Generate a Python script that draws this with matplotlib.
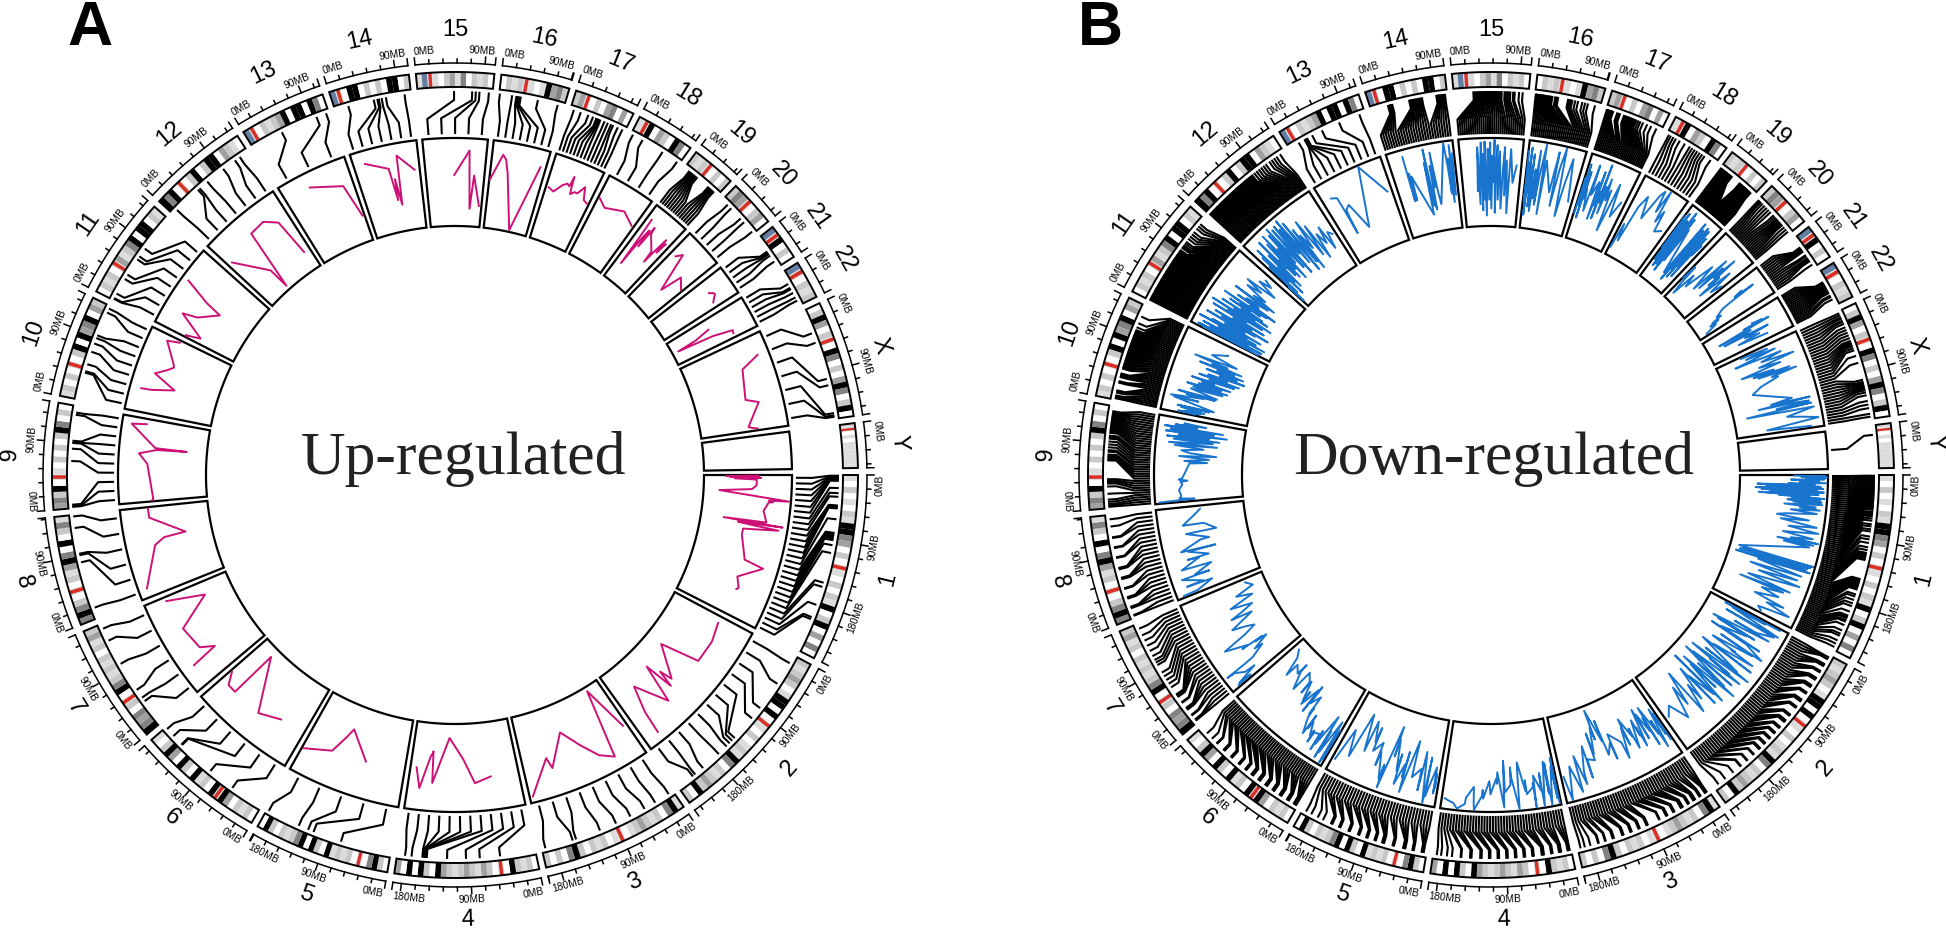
import numpy as np
import matplotlib
matplotlib.use("Agg")
import matplotlib.pyplot as plt

plt.rcParams["font.family"] = ["Liberation Sans", "DejaVu Sans"]

CHROMS = ["1", "2", "3", "4", "5", "6", "7", "8", "9", "10", "11", "12", "13",
          "14", "15", "16", "17", "18", "19", "20", "21", "22", "X", "Y"]
CHROM_MB = [249, 243, 198, 191, 181, 171, 159, 146, 141, 136, 135, 134, 115,
            107, 103, 91, 81, 78, 59, 63, 48, 51, 155, 59]

# one letter per equal slice of the chromosome
BANDS = ["awlwawlakkdmwlwrawlwlakwlkwmwdw", "lalmlwakkwkwrawlwalakdwlalmlkwl",
         "akdwlalmlawrawlalwlkdwlwl", "wlalkwrwlmalmlalmkwlkwkwm",
         "wlkdwrwlalakwlkwkdlalwlkw", "wlalwmkrkwlakwlkwmklwa",
         "kdmdwlrwkdlalalwlaml", "dkdlwrwlamkdwkwlda", "mdlkwrawlwlwlkdwlw",
         "alwlwrwlkwkmdkwml", "wlalwrmaldkwkkwla", "kdkwrwlkwlkkwmlaw",
         "srwlalmkwkkwkdw", "srwkkwlwlwkkwl", "asrawlmadwlalw", "wlalrawakmdl",
         "lmrwlwmdwmw", "arkwmlwkdw", "lalrwlwl", "ldmrwlmw", "srkwlw", "srwlal",
         "wlkmwlrwkdwlwmkdwlkw", "arwawaaaaaaa"]
BAND_COLORS = {"w": "#ffffff", "a": "#dcdcdc", "l": "#c8c8c8", "m": "#a0a0a0",
               "d": "#828282", "k": "#000000", "r": "#d92f27", "s": "#647fa4"}

UP_POS = [
    [1, 2, 3, 4, 5, 6, 8, 18, 25, 30, 42, 43, 44, 45, 46, 61, 80, 82, 84, 86, 88, 90, 97, 108, 150, 156, 182, 200, 203],
    [12, 45, 86, 104, 140, 145, 150, 156, 171, 200, 214, 218],
    [7, 29, 46, 68, 90, 114, 149, 154, 193],
    [49, 77, 96, 122, 150, 151, 152, 153, 154, 156, 171, 180],
    [70, 110, 118, 132, 178],
    [47, 85, 138, 139, 155, 168],
    [37, 43, 56, 98, 134, 152],
    [15, 80, 90, 92, 128, 144],
    [2, 3, 5, 65, 82, 90, 91, 93, 129, 132],
    [38, 40, 50, 68, 80, 88, 92, 126, 132],
    [2, 3, 10, 33, 40, 65, 70, 83],
    [8, 48, 51, 65, 93, 113, 121],
    [45, 97, 111],
    [19, 55, 60, 62, 66, 72, 98],
    [50, 75, 80, 85, 98],
    [1, 18, 24, 26, 28, 30, 54, 82],
    [5, 15, 26, 33, 38, 40, 42, 44, 50, 55, 60, 63, 70, 77],
    [3, 18, 50, 74],
    [8, 10, 12, 14, 16, 18, 20, 22, 42, 44, 46, 48, 50, 52],
    [10, 17, 36, 43, 60],
    [22, 24, 26, 29, 39],
    [18, 24, 26, 32, 39, 44],
    [33, 47, 99, 108, 147, 150, 152],
    [],
]
UP_VAL = [
    [62, 25, 62, 30, 65, 35, 60, 60, 55, 18, 98, 75, 78, 80, 75, 70, 75, 26, 94, 43, 60, 90, 50, 50, 60, 83, 58, 64, 62],
    [60, 65, 65, 20, 55, 40, 60, 25, 70, 32, 62, 89],
    [60, 5, 85, 75, 55, 33, 68, 55, 93],
    [62, 68, 40, 16, 68, 50, 32, 34, 36, 37, 75, 52],
    [58, 28, 40, 60, 72],
    [58, 68, 11, 68, 68, 55],
    [84, 52, 67, 72, 32, 75],
    [90, 67, 55, 30, 68, 68],
    [61, 62, 61, 67, 77, 57, 23, 59, 89, 72],
    [87, 75, 50, 77, 65, 59, 60, 78, 64],
    [60, 62, 45, 77, 60, 40, 60, 92],
    [67, 30, 5, 76, 78, 67, 23],
    [83, 69, 30],
    [85, 73, 36, 60, 30, 86, 67],
    [58, 86, 20, 58, 24],
    [55, 85, 80, 75, 70, 66, 2, 80],
    [61, 58, 68, 72, 70, 82, 70, 62, 66, 66, 72, 76, 62, 60],
    [72, 65, 73, 64],
    [83, 55, 23, 60, 72, 50, 78, 70, 55, 41, 60, 76, 58, 72],
    [70, 77, 32, 58, 49],
    [72, 74, 76, 77, 70],
    [49, 30, 7, 50, 73, 72],
    [87, 65, 58, 72, 55, 60, 65],
    [],
]

DOWN_POS = [
    [1, 2, 3, 4, 6, 7, 8, 10, 11, 13, 15, 16, 17, 19, 20, 22, 24, 25, 27, 28, 30, 32, 33, 35, 36, 38, 40, 41, 43, 44, 46, 48, 51, 53, 55, 57, 60, 63, 68, 71, 75, 78, 85, 89, 94, 100, 104, 108, 110, 112, 114, 116, 118, 145, 147, 149, 150, 151, 153, 154, 155, 156, 158, 160, 167, 170, 175, 180, 184, 192, 198, 200, 202, 205, 207, 212, 220, 225, 228, 235, 240, 245],
    [3, 4, 5, 6, 14, 15, 16, 17, 25, 26, 27, 36, 37, 38, 39, 48, 49, 50, 51, 60, 61, 62, 72, 73, 74, 75, 84, 85, 86, 98, 99, 100, 108, 109, 110, 111, 120, 121, 122, 130, 131, 132, 140, 141, 142, 150, 151, 152, 160, 161, 162, 172, 173, 184, 185, 196, 197, 210, 224, 236],
    [3, 4, 5, 6, 13, 14, 15, 22, 23, 24, 25, 32, 33, 34, 42, 43, 44, 45, 55, 56, 57, 66, 67, 68, 78, 79, 96, 97, 98, 108, 109, 110, 120, 121, 122, 132, 133, 134, 146, 147, 148, 158, 159, 168, 169, 180, 188, 194],
    [2, 3, 4, 5, 14, 15, 16, 17, 26, 27, 28, 38, 39, 40, 41, 52, 53, 54, 64, 65, 66, 76, 77, 78, 88, 89, 90, 100, 101, 102, 112, 113, 114, 124, 125, 126, 138, 139, 140, 152, 153, 165, 172, 180, 186],
    [4, 5, 6, 7, 18, 19, 20, 30, 31, 32, 33, 46, 47, 48, 60, 61, 62, 63, 72, 73, 74, 84, 85, 86, 96, 97, 98, 110, 111, 112, 124, 125, 126, 136, 137, 138, 150, 158, 168, 176],
    [2, 3, 4, 5, 6, 14, 15, 16, 17, 26, 27, 28, 29, 38, 39, 40, 41, 50, 51, 52, 53, 62, 63, 64, 65, 74, 75, 76, 77, 86, 87, 88, 98, 99, 100, 112, 113, 114, 126, 127, 128, 140, 141, 150, 160],
    [3, 4, 5, 12, 13, 22, 23, 24, 25, 34, 35, 44, 45, 46, 47, 48, 60, 66, 72, 78, 84, 96, 100, 104, 110, 118, 126, 134, 142, 152],
    [3, 4, 14, 15, 16, 28, 29, 30, 42, 43, 56, 57, 58, 70, 71, 72, 86, 87, 100, 101, 114, 115, 130, 140],
    [2, 4, 6, 9, 12, 20, 30, 34, 36, 38, 40, 66, 68, 70, 72, 74, 78, 80, 84, 88, 92, 96, 98, 100, 104, 106, 108, 110, 112, 114, 116, 118, 120, 122, 124, 126, 128, 130, 132, 134],
    [2, 3, 4, 5, 6, 10, 11, 12, 13, 24, 25, 26, 32, 33, 34, 35, 36, 37, 44, 46, 48, 50, 52, 54, 56, 58, 60, 62, 64, 66, 68, 70, 72, 74, 76, 78, 80, 82, 84, 86, 88, 90, 92, 94, 96, 98, 100, 104, 110, 120],
    [1, 2, 3, 4, 6, 7, 9, 10, 12, 14, 16, 17, 19, 20, 22, 24, 26, 28, 30, 32, 33, 35, 37, 39, 41, 43, 45, 46, 48, 50, 52, 54, 56, 57, 59, 61, 62, 64, 65, 67, 68, 70, 72, 73, 75, 77, 79, 81, 85, 87, 89, 92, 95, 100, 104, 108, 112, 118, 122, 126],
    [1, 2, 4, 5, 7, 8, 10, 12, 14, 15, 17, 19, 21, 22, 24, 26, 28, 30, 32, 34, 36, 38, 40, 42, 44, 46, 48, 50, 52, 53, 55, 56, 58, 60, 62, 64, 66, 68, 70, 72, 74, 76, 78, 80, 84, 88, 92, 96, 100, 104, 110, 114, 118, 122, 128],
    [15, 24, 25, 26, 27, 28, 36, 51, 77, 107],
    [24, 25, 26, 27, 28, 29, 30, 54, 55, 56, 57, 58, 59, 60, 62, 64, 66, 68, 70, 72, 92, 94, 95, 96, 98, 100, 102, 104],
    [27, 29, 31, 33, 35, 36, 38, 40, 41, 43, 45, 46, 48, 50, 52, 54, 55, 57, 59, 60, 62, 64, 66, 70, 72, 74, 76, 78, 82, 84, 90, 95],
    [1, 2, 3, 4, 5, 6, 7, 8, 10, 11, 12, 14, 16, 18, 20, 22, 24, 28, 30, 32, 46, 48, 50, 52, 56, 60, 66, 70, 74, 84],
    [1, 2, 3, 4, 5, 6, 7, 8, 9, 10, 16, 18, 20, 26, 28, 30, 32, 33, 35, 36, 38, 40, 42, 44, 47, 50, 54, 60, 66, 74],
    [3, 6, 10, 14, 20, 28, 36, 40, 44, 48, 52, 56, 60, 70],
    [1, 2, 3, 4, 5, 6, 7, 8, 9, 10, 11, 12, 13, 14, 15, 16, 17, 18, 19, 20, 34, 35, 36, 37, 38, 39, 40, 41, 42, 43, 44, 45, 46, 47, 48, 49, 50, 51, 52, 54],
    [1, 3, 5, 8, 12, 16, 20, 24, 30, 33, 36, 38, 40, 42, 44, 46, 48, 52, 56, 60],
    [15, 17, 18, 19, 20, 21, 22, 28, 30, 33, 34, 36, 38, 44],
    [15, 17, 18, 19, 20, 21, 22, 23, 24, 25, 26, 27, 29, 30, 32, 36, 38, 42],
    [3, 6, 9, 11, 14, 16, 19, 24, 28, 32, 36, 40, 44, 46, 48, 50, 52, 55, 58, 66, 76, 100, 103, 105, 107, 109, 111, 113, 115, 118, 122, 130, 135, 140, 148, 152],
    [13],
]
DOWN_VAL = [
    [62, 97, 70, 99, 75, 96, 58, 90, 68, 98, 55, 85, 20, 92, 30, 95, 18, 88, 25, 96, 35, 90, 22, 80, 45, 97, 60, 92, 55, 94, 62, 95, 52, 88, 70, 93, 60, 90, 55, 45, 82, 50, 92, 60, 95, 55, 90, 65, 97, 50, 92, 58, 88, 10, 98, 15, 95, 12, 92, 30, 90, 8, 96, 35, 88, 28, 85, 40, 90, 30, 82, 22, 75, 60, 50, 72, 45, 82, 62, 92, 55, 60],
    [90, 20, 72, 30, 92, 25, 50, 88, 68, 40, 85, 15, 70, 22, 60, 30, 82, 18, 65, 90, 35, 78, 28, 60, 55, 85, 35, 88, 20, 75, 30, 92, 15, 70, 42, 86, 22, 80, 12, 74, 35, 90, 18, 68, 30, 84, 10, 72, 38, 80, 25, 66, 44, 78, 20, 60, 35, 72, 48, 58],
    [80, 45, 72, 38, 85, 50, 68, 30, 78, 42, 60, 35, 66, 28, 72, 48, 58, 38, 70, 45, 55, 30, 62, 40, 75, 55, 40, 70, 50, 62, 20, 45, 5, 40, 25, 55, 30, 62, 58, 80, 42, 70, 85, 50, 92, 60, 98, 70],
    [98, 45, 92, 55, 98, 50, 85, 48, 98, 60, 80, 62, 98, 70, 75, 82, 66, 78, 45, 60, 98, 62, 50, 70, 78, 42, 95, 55, 68, 62, 80, 72, 65, 85, 75, 82, 98, 90, 72, 85, 92, 98, 92, 90, 88],
    [78, 62, 85, 55, 90, 45, 98, 40, 70, 85, 60, 72, 52, 30, 92, 45, 75, 60, 85, 50, 70, 35, 55, 20, 95, 68, 85, 55, 72, 45, 58, 30, 48, 25, 40, 62, 20, 75, 45, 85],
    [55, 92, 58, 98, 45, 88, 60, 95, 42, 82, 65, 90, 70, 72, 85, 70, 78, 62, 72, 55, 80, 62, 50, 58, 35, 48, 25, 60, 30, 55, 38, 50, 28, 45, 30, 22, 35, 48, 28, 18, 32, 25, 42, 20, 12],
    [90, 72, 88, 62, 75, 85, 95, 70, 58, 40, 50, 30, 45, 35, 62, 55, 80, 50, 35, 45, 60, 30, 55, 40, 25, 50, 20, 38, 15, 22],
    [92, 75, 55, 85, 65, 88, 55, 72, 50, 85, 62, 75, 50, 72, 40, 80, 55, 45, 70, 35, 48, 72, 58, 50],
    [95, 55, 72, 70, 70, 72, 68, 70, 62, 72, 68, 60, 40, 66, 52, 38, 72, 30, 60, 70, 45, 78, 30, 85, 35, 80, 28, 88, 40, 75, 20, 90, 35, 85, 25, 92, 55, 80, 45, 70],
    [60, 80, 55, 72, 50, 78, 45, 82, 40, 88, 60, 92, 55, 75, 42, 68, 85, 40, 72, 35, 70, 30, 78, 38, 65, 28, 62, 48, 75, 25, 55, 20, 68, 35, 58, 15, 45, 25, 62, 18, 50, 30, 72, 22, 58, 40, 80, 30, 62, 45],
    [15, 85, 25, 92, 12, 78, 30, 88, 10, 70, 22, 95, 35, 80, 18, 65, 40, 90, 28, 72, 12, 82, 35, 60, 20, 88, 45, 70, 25, 92, 15, 65, 38, 82, 22, 58, 30, 75, 48, 62, 35, 85, 28, 52, 18, 70, 42, 60, 32, 78, 25, 55, 40, 68, 50, 72, 35, 60, 45, 55],
    [30, 8, 62, 20, 75, 35, 85, 15, 55, 30, 72, 22, 90, 48, 60, 35, 82, 30, 92, 40, 70, 25, 88, 45, 95, 55, 35, 90, 60, 25, 80, 92, 50, 85, 35, 95, 60, 22, 88, 55, 30, 75, 20, 65, 45, 80, 32, 70, 25, 55, 40, 60, 30, 50, 45],
    [80, 77, 60, 31, 50, 60, 64, 31, 98, 60],
    [92, 40, 60, 72, 55, 40, 68, 20, 58, 80, 30, 95, 65, 42, 25, 75, 50, 90, 45, 30, 98, 70, 40, 80, 30, 95, 38, 85],
    [40, 90, 25, 70, 95, 18, 82, 30, 96, 12, 72, 88, 30, 95, 20, 80, 50, 98, 15, 70, 92, 30, 85, 20, 65, 90, 35, 75, 15, 88, 50, 70],
    [88, 30, 75, 15, 60, 92, 40, 70, 25, 85, 55, 20, 68, 35, 90, 28, 62, 98, 18, 80, 45, 70, 92, 30, 75, 98, 20, 60, 88, 40],
    [30, 72, 50, 88, 40, 65, 25, 80, 48, 60, 35, 90, 55, 72, 28, 85, 45, 62, 30, 95, 50, 70, 38, 80, 55, 68, 20, 78, 40, 60],
    [10, 40, 20, 65, 80, 55, 88, 95, 70, 98, 60, 75, 50, 55],
    [85, 40, 78, 25, 90, 32, 70, 18, 82, 45, 60, 22, 95, 38, 72, 15, 88, 50, 30, 75, 20, 92, 35, 68, 12, 85, 42, 60, 28, 90, 18, 72, 48, 88, 35, 65, 22, 80, 55, 70],
    [30, 48, 25, 10, 40, 25, 42, 62, 30, 78, 35, 70, 55, 85, 45, 60, 30, 72, 42, 55],
    [70, 60, 85, 72, 55, 45, 40, 30, 35, 22, 30, 18, 25, 10],
    [60, 72, 48, 80, 55, 30, 15, 40, 55, 35, 50, 20, 60, 75, 45, 62, 35, 70],
    [30, 62, 35, 70, 42, 20, 75, 50, 88, 45, 70, 22, 60, 35, 78, 40, 85, 55, 62, 40, 28, 70, 45, 90, 30, 72, 88, 50, 90, 15, 92, 60, 78, 95, 35, 85],
    [50],
]

# radii in pixels, centre to outside
R_BOX_IN = 249
R_BOX_OUT = 337
R_CONN_LOW = 341
R_CONN_A = 357
R_CONN_B = 375
R_CONN_TOP = 384
R_IDEO_IN = 388
R_IDEO_OUT = 403
R_AXIS = 412
R_TICKLABEL = 425
R_CHROMLABEL = 445

GAP = 1.0
DEG_PER_MB = (360 - GAP * len(CHROMS)) / sum(CHROM_MB)
starts = np.concatenate([[0], np.cumsum(np.array(CHROM_MB) * DEG_PER_MB + GAP)])[:-1]


def to_xy(cx, cy, ang, r):
    a = np.radians(ang)
    return cx + r * np.cos(a), cy + r * np.sin(a)


def arc(ang1, ang2):
    return np.linspace(ang1, ang2, max(int(abs(ang2 - ang1) * 2) + 2, 4))


def draw_ring(ax, cx, cy, ang1, ang2, r1, r2, **kw):
    t = arc(ang1, ang2)
    x1, y1 = to_xy(cx, cy, t, r1)
    x2, y2 = to_xy(cx, cy, t[::-1], r2)
    return ax.fill(np.r_[x1, x2], np.r_[y1, y2], **kw)


def text_rot(ang):
    a = (-ang) % 360
    return a - 90 if a < 180 else a + 90


def draw_panel(ax, cx, cy, all_pos, all_val, color, title, title_x, letter, letter_x):
    for i, name in enumerate(CHROMS):
        s = starts[i]
        length = CHROM_MB[i]
        e = s + length * DEG_PER_MB

        # sector box
        draw_ring(ax, cx, cy, s, e, R_BOX_IN, R_BOX_OUT, fc="white", ec="black", lw=1.6, zorder=2)

        # ideogram, centromere drawn as a thin stripe over light grey
        bands = BANDS[i]
        w = (e - s) / len(bands)
        for j, c in enumerate(bands):
            a1, a2 = s + j * w, s + (j + 1) * w
            if c == "r":
                draw_ring(ax, cx, cy, a1, a2, R_IDEO_IN, R_IDEO_OUT,
                          fc=BAND_COLORS["a"], ec="none", lw=0, zorder=2)
                mid, half = (a1 + a2) / 2, min(w * 0.3, 0.4)
                a1, a2 = mid - half, mid + half
            draw_ring(ax, cx, cy, a1, a2, R_IDEO_IN, R_IDEO_OUT,
                      fc=BAND_COLORS[c], ec="none", lw=0, zorder=2)
        draw_ring(ax, cx, cy, s, e, R_IDEO_IN, R_IDEO_OUT, fc="none", ec="black", lw=1.4, zorder=3)

        # genome axis
        x, y = to_xy(cx, cy, arc(s, e), R_AXIS)
        ax.plot(x, y, color="black", lw=1.1, zorder=3)
        for mb in range(0, length + 1, 18):
            t = s + mb * DEG_PER_MB
            major = mb % 90 == 0
            x, y = to_xy(cx, cy, t, np.array([R_AXIS, R_AXIS + (7 if major else 4)]))
            ax.plot(x, y, color="black", lw=1.1, zorder=3)
            if major:
                label = f"{mb}MB"
                # labels stay inside their own sector
                half = len(label) * 3.6 / R_TICKLABEL * 180 / np.pi
                t_label = np.clip(t, s + half, e - half)
                x, y = to_xy(cx, cy, t_label, R_TICKLABEL)
                ax.text(x, y, label, fontsize=7.4, ha="center", va="center",
                        rotation=text_rot(t_label), rotation_mode="anchor")
        x, y = to_xy(cx, cy, e, np.array([R_AXIS, R_AXIS + 7]))
        ax.plot(x, y, color="black", lw=1.1, zorder=3)

        x, y = to_xy(cx, cy, (s + e) / 2, R_CHROMLABEL)
        ax.text(x, y, name, fontsize=17, ha="center", va="center",
                rotation=text_rot((s + e) / 2), rotation_mode="anchor")

        # connectors from the genome position to the even slot above the box
        pos = all_pos[i]
        n = len(pos)
        for k, mb in enumerate(pos):
            top = s + mb * DEG_PER_MB
            low = s + (k + 0.5) / n * (e - s)
            x, y = to_xy(cx, cy, np.array([top, top, low, low]),
                         np.array([R_CONN_TOP, R_CONN_B, R_CONN_A, R_CONN_LOW]))
            ax.plot(x, y, color="black", lw=1.5, zorder=3, solid_capstyle="butt")

        # expression line
        if n > 1:
            ang = s + np.array(pos) * DEG_PER_MB
            r = R_BOX_IN + np.array(all_val[i]) / 100 * (R_BOX_OUT - R_BOX_IN)
            x, y = to_xy(cx, cy, ang, r)
            ax.plot(x, y, color=color, lw=1.4, zorder=4)

    ax.text(title_x, 459, title, family=["Liberation Serif", "DejaVu Serif"], fontsize=44.5,
            color="#222222", ha="center", va="center")
    ax.text(letter_x, 45, letter, fontsize=45, fontweight="bold", ha="left", va="baseline")


fig = plt.figure(figsize=(19.46, 9.3), dpi=100)
ax = fig.add_axes([0, 0, 1, 1])
ax.set_xlim(0, 1946)
ax.set_ylim(930, 0)
ax.axis("off")

draw_panel(ax, 455, 475, UP_POS, UP_VAL, "#cd1076", "Up-regulated", 464, "A", 67)
draw_panel(ax, 1491, 475, DOWN_POS, DOWN_VAL, "#1874cd", "Down-regulated", 1494, "B", 1078)

fig.savefig("out.png", dpi=100)
